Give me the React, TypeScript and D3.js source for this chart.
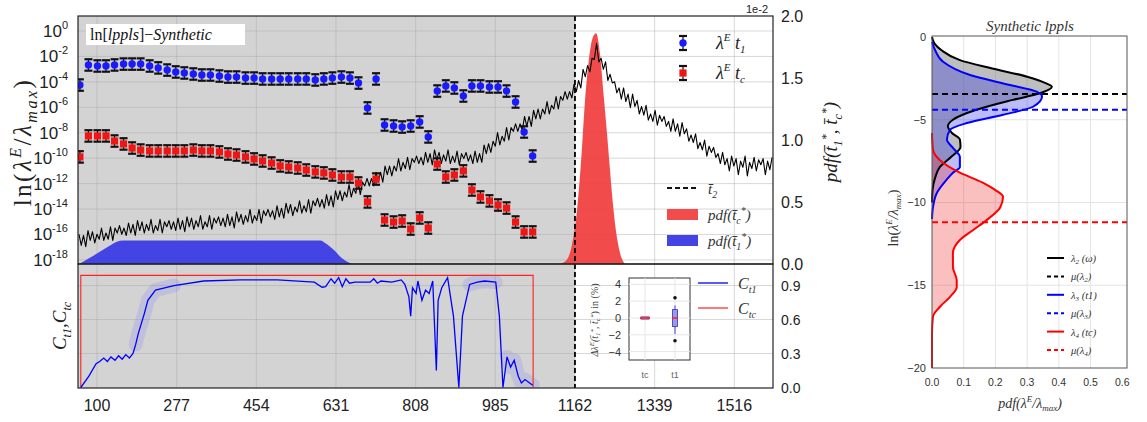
import React from "react";
import * as d3 from "d3";

// ---------------- DATA ----------------
const t2 = 1162;
const xTicks = [100, 277, 454, 631, 808, 985, 1162, 1339, 1516];
const logTickExps = [0, -2, -4, -6, -8, -10, -12, -14, -16, -18];
const pdfTicks = [0, 0.5, 1.0, 1.5, 2.0];
const cTicks = [0, 0.3, 0.6, 0.9];

// window end times of the error-bar points
const pointT = [62, 81, 101, 120, 139, 159, 178, 197, 217, 236, 256, 275, 294, 314, 333, 352, 372, 391, 410, 430, 449, 468, 488, 507, 526, 546, 565, 585, 604, 623, 643, 662, 681, 701, 720, 739, 759, 778, 797, 817, 836, 856, 875, 894, 914, 933, 952, 972, 991, 1010, 1030, 1049, 1068];
// log10 of lambda^E at t1 (blue) and tc (red)
const lambdaT1Exp = [-4.25, -2.67, -2.75, -2.75, -2.67, -2.6, -2.6, -2.6, -2.75, -2.9, -3.07, -3.22, -3.3, -3.38, -3.46, -3.46, -3.54, -3.62, -3.62, -3.7, -3.7, -3.77, -3.77, -3.77, -3.77, -3.77, -3.77, -3.85, -3.77, -3.7, -3.62, -3.7, -4.09, -6.05, -3.77, -7.39, -7.47, -7.55, -7.47, -7.15, -8.33, -4.72, -4.32, -4.48, -5.11, -4.32, -4.32, -4.4, -4.4, -4.72, -5.58, -7.94, -9.83];
const lambdaTcExp = [-9.9, -8.25, -8.25, -8.25, -8.65, -8.88, -9.2, -9.36, -9.43, -9.43, -9.43, -9.43, -9.43, -9.36, -9.43, -9.43, -9.51, -9.67, -9.75, -9.9, -10.06, -10.22, -10.38, -10.61, -10.69, -10.77, -10.93, -11.08, -11.16, -11.32, -11.48, -11.48, -11.95, -13.44, -11.64, -14.86, -15.02, -14.94, -15.57, -14.7, -15.49, -10.46, -11.48, -11.32, -11.0, -12.5, -13.05, -13.36, -13.68, -13.92, -15.02, -15.8, -15.8];
const errDecades = 0.45;

// noisy black series (right axis, x1e-2), sampled every 5 time units from 60
const noiseStart = 60;
const noiseStep = 5;
const pdfNoise = [
  0.24, 0.15, 0.23, 0.14, 0.27, 0.19, 0.26, 0.17, 0.24, 0.20,
  0.29, 0.19, 0.25, 0.20, 0.30, 0.19, 0.29, 0.25, 0.31, 0.24,
  0.29, 0.23, 0.33, 0.25, 0.32, 0.23, 0.35, 0.27, 0.34, 0.25,
  0.32, 0.27, 0.36, 0.25, 0.31, 0.27, 0.36, 0.25, 0.34, 0.30,
  0.35, 0.28, 0.34, 0.27, 0.37, 0.28, 0.35, 0.26, 0.38, 0.30,
  0.37, 0.28, 0.35, 0.30, 0.39, 0.28, 0.34, 0.30, 0.39, 0.28,
  0.37, 0.33, 0.38, 0.31, 0.37, 0.30, 0.40, 0.31, 0.38, 0.29,
  0.42, 0.34, 0.40, 0.32, 0.39, 0.34, 0.44, 0.33, 0.39, 0.35,
  0.44, 0.33, 0.43, 0.39, 0.44, 0.38, 0.43, 0.36, 0.47, 0.38,
  0.45, 0.37, 0.49, 0.41, 0.48, 0.39, 0.46, 0.42, 0.51, 0.41,
  0.47, 0.42, 0.52, 0.41, 0.51, 0.47, 0.53, 0.46, 0.52, 0.45,
  0.56, 0.47, 0.55, 0.46, 0.59, 0.52, 0.59, 0.51, 0.58, 0.54,
  0.64, 0.54, 0.61, 0.57, 0.67, 0.56, 0.66, 0.63, 0.69, 0.63,
  0.69, 0.63, 0.74, 0.66, 0.74, 0.66, 0.79, 0.72, 0.79, 0.71,
  0.79, 0.75, 0.85, 0.75, 0.82, 0.77, 0.86, 0.76, 0.85, 0.82,
  0.87, 0.81, 0.86, 0.80, 0.90, 0.82, 0.89, 0.80, 0.92, 0.84,
  0.90, 0.81, 0.88, 0.83, 0.92, 0.81, 0.87, 0.82, 0.91, 0.80,
  0.89, 0.85, 0.90, 0.83, 0.88, 0.81, 0.91, 0.82, 0.89, 0.82,
  0.96, 0.89, 0.97, 0.90, 0.99, 0.95, 1.06, 0.96, 1.03, 0.99,
  1.10, 1.00, 1.10, 1.07, 1.13, 1.07, 1.13, 1.08, 1.19, 1.11,
  1.19, 1.11, 1.24, 1.17, 1.25, 1.17, 1.25, 1.21, 1.31, 1.21,
  1.28, 1.25, 1.35, 1.25, 1.35, 1.32, 1.39, 1.33, 1.39, 1.34,
  1.45, 1.39, 1.48, 1.42, 1.57, 1.51, 1.60, 1.55, 1.66, 1.65,
  1.78, 1.63, 1.66, 1.57, 1.63, 1.48, 1.53, 1.46, 1.47, 1.38,
  1.42, 1.33, 1.42, 1.31, 1.37, 1.26, 1.37, 1.27, 1.32, 1.21,
  1.27, 1.20, 1.28, 1.16, 1.21, 1.15, 1.24, 1.12, 1.20, 1.15,
  1.19, 1.11, 1.15, 1.07, 1.17, 1.07, 1.13, 1.03, 1.14, 1.05,
  1.09, 0.99, 1.04, 0.98, 1.05, 0.93, 0.98, 0.92, 1.00, 0.87,
  0.95, 0.90, 0.94, 0.86, 0.89, 0.81, 0.90, 0.80, 0.85, 0.75,
  0.87, 0.79, 0.85, 0.72, 0.83, 0.78, 0.87, 0.71, 0.82, 0.77,
  0.86, 0.75, 0.84, 0.80, 0.85, 0.72, 0.83, 0.76, 0.86,
];

// pdf of t1* (blue fill) and tc* (red fill), right axis units
const pdfT1X = [60, 84, 107, 129, 144, 158, 596, 607, 618, 630, 640, 655, 669];
const pdfT1V = [0, 0.05, 0.1, 0.15, 0.18, 0.19, 0.19, 0.17, 0.14, 0.1, 0.06, 0.02, 0];
const pdfTcX = [1125, 1140, 1155, 1167, 1176, 1184, 1193, 1202, 1209, 1218, 1226, 1233, 1240, 1247, 1255, 1262, 1273];
const pdfTcV = [0, 0.02, 0.15, 0.45, 0.85, 1.3, 1.65, 1.83, 1.86, 1.68, 1.35, 1.06, 0.75, 0.46, 0.22, 0.09, 0];

// bottom panel: C_t1 (blue) and C_tc (red)
const cT1X = [64, 82, 98, 106, 115, 123, 131, 140, 148, 156, 164, 172, 180, 186, 192, 205, 213, 230, 271, 337, 419, 501, 583, 600, 608, 620, 628, 637, 645, 653, 661, 673, 707, 715, 723, 731, 755, 776, 784, 793, 797, 801, 809, 813, 822, 830, 838, 846, 854, 858, 866, 879, 892, 904, 912, 928, 945, 961, 986, 994, 1002, 1011, 1019, 1027, 1036, 1043, 1051, 1068];
const cT1V = [0, 0.1, 0.21, 0.23, 0.26, 0.23, 0.27, 0.24, 0.28, 0.25, 0.29, 0.26, 0.3, 0.38, 0.48, 0.65, 0.77, 0.86, 0.9, 0.94, 0.95, 0.95, 0.93, 0.885, 0.89, 0.96, 0.92, 0.97, 0.89, 0.96, 0.92, 0.93, 0.93, 0.96, 0.92, 0.94, 0.93, 0.95, 0.91, 0.8, 0.63, 0.88, 0.83, 0.94, 0.77, 0.86, 0.83, 0.94, 0.15, 0.77, 0.88, 0.97, 0.63, 0.0, 0.63, 0.91, 0.93, 0.94, 0.93, 0.63, 0.0, 0.27, 0.18, 0.24, 0.1, 0.04, 0.07, 0.02];
const cT1BandRanges = [[186, 330], [925, 992], [1005, 1068]];
const cTcX = [64, 64, 1069, 1069];
const cTcV = [0, 0.99, 0.99, 0];

// inset: Δλ^E in %
const insetCats = ["tc", "t1"];
const insetTicks = [4, 2, 0, -2, -4];
const insetTcBox = [-0.15, 0, 0.15];
const insetT1Box = [-1.0, 0, 1.0];
const insetT1Whisk = [-1.9, 1.5];
const insetT1Outliers = [2.4, -2.7];

// right panel KDEs (ln value, pdf)
const kdeL2Ln = [0, -0.4, -0.8, -1.4, -1.9, -2.4, -2.8, -3.0, -3.4, -3.8, -4.4, -5.0, -5.4, -5.8, -6.2, -6.65, -7.25, -7.85, -8.5, -9.2, -10];
const kdeL2Pdf = [0, 0.008, 0.03, 0.088, 0.19, 0.3, 0.36, 0.378, 0.34, 0.255, 0.14, 0.066, 0.05, 0.063, 0.088, 0.09, 0.06, 0.025, 0.01, 0.002, 0];
const kdeL3Ln = [-0.3, -0.8, -1.5, -2.3, -2.9, -3.3, -3.6, -4.2, -4.7, -5.2, -5.6, -6.2, -6.7, -7.25, -7.85, -8.2, -8.6, -9.4, -10.3, -11];
const kdeL3Pdf = [0, 0.01, 0.035, 0.12, 0.246, 0.33, 0.347, 0.32, 0.224, 0.11, 0.057, 0.047, 0.066, 0.088, 0.088, 0.066, 0.047, 0.016, 0.003, 0];
const kdeL4Ln = [-5.8, -6.8, -7.6, -8.2, -8.8, -9.25, -9.65, -10.3, -11.05, -11.66, -12.27, -13.05, -13.9, -14.7, -15.1, -15.7, -16.3, -16.9, -18, -20];
const kdeL4Pdf = [0, 0.003, 0.035, 0.088, 0.16, 0.2, 0.224, 0.215, 0.173, 0.13, 0.088, 0.066, 0.066, 0.078, 0.078, 0.057, 0.025, 0.003, 0, 0];
const meanL2 = -3.45;
const meanL3 = -4.4;
const meanL4 = -11.2;
const kdeXTicks = [0, 0.1, 0.2, 0.3, 0.4, 0.5, 0.6];
const kdeYTicks = [0, -5, -10, -15, -20];

// ---------------- STYLE ----------------
const SANS = "'Liberation Sans', Arial, sans-serif";
const SERIF = "'Liberation Serif', 'DejaVu Serif', serif";
const GRAY_BG = "#d3d3d3";

export default function App() {
  const L = 78, R = 773, T = 16, MID = 264, B = 388;
  const x = d3.scaleLinear().domain([57.8, 1602]).range([L, R]);
  const yLog = d3.scaleLog().domain([Math.pow(10, -18.32), Math.pow(10, 1.18)]).range([MID, T]);
  const yPdf = d3.scaleLinear().domain([0, 2]).range([MID, T]);
  const yC = d3.scaleLinear().domain([0, 1.09]).range([B - 0.5, MID]);
  const xs = x(t2);

  const noiseLine = d3
    .line<number>()
    .x((_, i) => x(noiseStart + i * noiseStep))
    .y((d) => yPdf(d));

  const t1Area = d3
    .area<number>()
    .x((_, i) => x(pdfT1X[i]))
    .y0(yPdf(0))
    .y1((d) => yPdf(d))
    .curve(d3.curveMonotoneX);
  const tcArea = d3
    .area<number>()
    .x((_, i) => x(pdfTcX[i]))
    .y0(yPdf(0))
    .y1((d) => yPdf(d))
    .curve(d3.curveMonotoneX);

  const cLine = d3.line<[number, number]>().x((d) => x(d[0])).y((d) => yC(d[1]));
  const cT1Pts: [number, number][] = cT1X.map((t, i) => [t, cT1V[i]]);
  const cTcPts: [number, number][] = cTcX.map((t, i) => [t, cTcV[i]]);

  // inset
  const inL = 629, inR = 690, inT = 278, inB = 360;
  const yIn = d3.scaleLinear().domain([-4, 4]).range([351.6, 284.4]);
  const xIn = d3.scalePoint<string>().domain(insetCats).range([645, 675]);

  // right panel
  const kL = 932, kR = 1127, kT = 36, kB = 368;
  const kx = d3.scaleLinear().domain([0, 0.615]).range([kL, kR]);
  const ky = d3.scaleLinear().domain([0.06, -20]).range([kT, kB]);
  const kdeArea = (lnArr: number[], pdfArr: number[]) =>
    d3
      .area<number>()
      .y((d) => ky(d))
      .x0(kx(0))
      .x1((_, i) => kx(pdfArr[i]))
      .curve(d3.curveMonotoneY)(lnArr) as string;
  const kdeLine = (lnArr: number[], pdfArr: number[]) =>
    d3
      .line<number>()
      .y((d) => ky(d))
      .x((_, i) => kx(pdfArr[i]))
      .curve(d3.curveMonotoneY)(lnArr) as string;

  const errBar = (cx: number, e: number, key: string) => {
    const y1 = yLog(Math.pow(10, e + errDecades));
    const y0 = yLog(Math.pow(10, e - errDecades));
    return (
      <g key={key}>
        <line x1={cx} x2={cx} y1={y1} y2={y0} stroke="#111" strokeWidth={1.2} />
        <line x1={cx - 4} x2={cx + 4} y1={y1} y2={y1} stroke="#111" strokeWidth={2.2} />
        <line x1={cx - 4} x2={cx + 4} y1={y0} y2={y0} stroke="#111" strokeWidth={2.2} />
      </g>
    );
  };

  return (
    <svg
      width={1147}
      height={422}
      style={{ position: "absolute", left: 0, top: 0, background: "#fff" }}
    >
      <defs>
        <clipPath id="topClip">
          <rect x={L} y={T} width={R - L} height={MID - T} />
        </clipPath>
        <clipPath id="botClip">
          <rect x={L} y={MID} width={R - L} height={B - MID} />
        </clipPath>
      </defs>

      {/* ===== Top + bottom panel backgrounds ===== */}
      <rect x={L} y={T} width={R - L} height={B - T} fill="#fff" />
      <rect x={L} y={T} width={xs - L} height={B - T} fill={GRAY_BG} />

      {/* grids */}
      <g stroke="#a8a8a8" strokeOpacity={0.45} strokeWidth={1}>
        {xTicks.map((t) => (
          <line key={"gv" + t} x1={x(t)} x2={x(t)} y1={T} y2={B} />
        ))}
        {logTickExps.map((k) => (
          <line key={"gh" + k} x1={L} x2={R} y1={yLog(Math.pow(10, k))} y2={yLog(Math.pow(10, k))} />
        ))}
        {cTicks.slice(1).map((c) => (
          <line key={"gc" + c} x1={L} x2={R} y1={yC(c)} y2={yC(c)} />
        ))}
      </g>

      {/* ===== Top panel marks ===== */}
      <g clipPath="url(#topClip)">
        <path d={t1Area(pdfT1V) as string} fill="#4444e4" />
        <path d={tcArea(pdfTcV) as string} fill="#f03c3c" fillOpacity={0.92} />
        <path d={noiseLine(pdfNoise) as string} fill="none" stroke="#000" strokeWidth={1.1} strokeLinejoin="round" />
        {pointT.map((t, i) => errBar(x(t), lambdaT1Exp[i], "eb" + i))}
        {pointT.map((t, i) => errBar(x(t), lambdaTcExp[i], "er" + i))}
        {pointT.map((t, i) => (
          <circle key={"pb" + i} cx={x(t)} cy={yLog(Math.pow(10, lambdaT1Exp[i]))} r={3.7} fill="#1a1aff" />
        ))}
        {pointT.map((t, i) => (
          <rect
            key={"pr" + i}
            x={x(t) - 3.6}
            y={yLog(Math.pow(10, lambdaTcExp[i])) - 3.6}
            width={7.2}
            height={7.2}
            fill="#f01515"
          />
        ))}
      </g>

      {/* ===== Bottom panel marks ===== */}
      <g clipPath="url(#botClip)">
        {cT1BandRanges.map((r, i) => (
          <path
            key={"band" + i}
            d={cLine(cT1Pts.filter((p) => p[0] >= r[0] && p[0] <= r[1])) as string}
            fill="none"
            stroke="#6a6af0"
            strokeOpacity={0.18}
            strokeWidth={14}
            strokeLinejoin="round"
            strokeLinecap="round"
          />
        ))}
        <path d={cLine(cTcPts) as string} fill="none" stroke="#ff2020" strokeWidth={1.1} />
        <path d={cLine(cT1Pts) as string} fill="none" stroke="#0000ff" strokeWidth={1.3} />
      </g>

      {/* t2 dashed line */}
      <line x1={xs} x2={xs} y1={T} y2={B} stroke="#000" strokeWidth={1.8} strokeDasharray="5,3" />

      {/* frames */}
      <rect x={L} y={T} width={R - L} height={MID - T} fill="none" stroke="#222" strokeWidth={1.2} />
      <rect x={L} y={MID} width={R - L} height={B - MID} fill="none" stroke="#222" strokeWidth={1.2} />

      {/* top-left title box */}
      <rect x={86} y={24} width={159} height={21} fill="#fff" />
      <text x={90} y={40} fontFamily={SERIF} fontSize={16} fill="#111">
        ln[<tspan fontStyle="italic">lppls</tspan>]−<tspan fontStyle="italic">Synthetic</tspan>
      </text>

      {/* left log tick labels */}
      {logTickExps.map((k) => (
        <text key={"lt" + k} x={68} y={yLog(Math.pow(10, k)) + 6} textAnchor="end" fontFamily={SANS} fontSize={17} fill="#222">
          10
          <tspan fontSize={11} dy={-8}>
            {k === 0 ? "0" : "-" + Math.abs(k)}
          </tspan>
        </text>
      ))}

      {/* right tick labels */}
      {pdfTicks.map((v) => (
        <text key={"rt" + v} x={781} y={yPdf(v) + 6} fontFamily={SANS} fontSize={16} fill="#222">
          {v.toFixed(1)}
        </text>
      ))}
      {cTicks.map((v) => (
        <text key={"ct" + v} x={781} y={yC(v) + 5} fontFamily={SANS} fontSize={14} fill="#222">
          {v.toFixed(1)}
        </text>
      ))}
      <text x={757} y={13} textAnchor="middle" fontFamily={SANS} fontSize={11} fill="#222">
        1e-2
      </text>

      {/* x tick labels */}
      {xTicks.map((t) => (
        <text key={"xt" + t} x={x(t)} y={411} textAnchor="middle" fontFamily={SANS} fontSize={16} fill="#222">
          {t}
        </text>
      ))}

      {/* axis titles */}
      <text
        transform="translate(31,142) rotate(-90)"
        textAnchor="middle"
        fontFamily={SERIF}
        fontSize={25}
        letterSpacing={2.5}
        fill="#222"
      >
        ln(<tspan fontStyle="italic">λ</tspan>
        <tspan fontStyle="italic" fontSize={16} dy={-10}>E</tspan>
        <tspan dy={10}>/</tspan>
        <tspan fontStyle="italic">λ</tspan>
        <tspan fontStyle="italic" fontSize={16} dy={6}>max</tspan>
        <tspan dy={-6}>)</tspan>
      </text>
      <text
        transform="translate(837,142) rotate(-90)"
        textAnchor="middle"
        fontFamily={SERIF}
        fontStyle="italic"
        fontSize={19}
        fill="#222"
      >
        pdf(t̄<tspan fontSize={12} dy={5}>1</tspan>
        <tspan fontSize={12} dy={-12}>*</tspan>
        <tspan dy={7}>, t̄</tspan>
        <tspan fontSize={12} dy={5}>c</tspan>
        <tspan fontSize={12} dy={-12}>*</tspan>
        <tspan dy={7}>)</tspan>
      </text>
      <text
        transform="translate(66,326) rotate(-90)"
        textAnchor="middle"
        fontFamily={SERIF}
        fontStyle="italic"
        fontSize={19}
        fill="#222"
      >
        C<tspan fontSize={12} dy={5}>t1</tspan>
        <tspan dy={-5}>,C</tspan>
        <tspan fontSize={12} dy={5}>tc</tspan>
      </text>

      {/* top legend (error bars) */}
      {[
        { e: 0, color: "#1a1aff", label: "1", yy: 43, circle: true },
        { e: 1, color: "#f01515", label: "c", yy: 73, circle: false },
      ].map((d) => (
        <g key={"lg" + d.e}>
          <line x1={683} x2={683} y1={d.yy - 7} y2={d.yy + 7} stroke="#111" strokeWidth={1.2} />
          <line x1={679} x2={687} y1={d.yy - 7} y2={d.yy - 7} stroke="#111" strokeWidth={2.2} />
          <line x1={679} x2={687} y1={d.yy + 7} y2={d.yy + 7} stroke="#111" strokeWidth={2.2} />
          {d.circle ? (
            <circle cx={683} cy={d.yy} r={3.7} fill={d.color} />
          ) : (
            <rect x={679.4} y={d.yy - 3.6} width={7.2} height={7.2} fill={d.color} />
          )}
          <text x={716} y={d.yy + 6} fontFamily={SERIF} fontStyle="italic" fontSize={18} fill="#222">
            λ<tspan fontSize={11} dy={-8}>E</tspan>
            <tspan dy={8}>{"  t"}</tspan>
            <tspan fontSize={11} dy={4}>{d.label}</tspan>
          </text>
        </g>
      ))}

      {/* top lower legend */}
      <line x1={667} x2={698} y1={188} y2={188} stroke="#111" strokeWidth={2} strokeDasharray="5,3" />
      <text x={708} y={194} fontFamily={SERIF} fontStyle="italic" fontSize={15} fill="#333">
        t̄<tspan fontSize={10} dy={4}>2</tspan>
      </text>
      <rect x={667} y={209} width={31} height={11} fill="#f03c3c" fillOpacity={0.92} />
      <text x={708} y={220} fontFamily={SERIF} fontStyle="italic" fontSize={15} fill="#333">
        pdf(t̄<tspan fontSize={10} dy={4}>c</tspan>
        <tspan fontSize={10} dy={-10}>*</tspan>
        <tspan dy={6}>)</tspan>
      </text>
      <rect x={667} y={235} width={31} height={11} fill="#4444e4" />
      <text x={708} y={246} fontFamily={SERIF} fontStyle="italic" fontSize={15} fill="#333">
        pdf(t̄<tspan fontSize={10} dy={4}>1</tspan>
        <tspan fontSize={10} dy={-10}>*</tspan>
        <tspan dy={6}>)</tspan>
      </text>

      {/* bottom legend */}
      <line x1={698} x2={728} y1={283} y2={283} stroke="#0000ff" strokeWidth={1.3} />
      <text x={738} y={289} fontFamily={SERIF} fontStyle="italic" fontSize={16} fill="#333">
        C<tspan fontSize={10} dy={4}>t1</tspan>
      </text>
      <line x1={698} x2={728} y1={308} y2={308} stroke="#ff3030" strokeWidth={1.3} />
      <text x={738} y={314} fontFamily={SERIF} fontStyle="italic" fontSize={16} fill="#333">
        C<tspan fontSize={10} dy={4}>tc</tspan>
      </text>

      {/* ===== inset ===== */}
      <rect x={inL} y={inT} width={inR - inL} height={inB - inT} fill="#fff" stroke="#333" strokeWidth={1} />
      <g stroke="#e6e6e6" strokeWidth={1}>
        {insetTicks.map((v) => (
          <line key={"ig" + v} x1={inL} x2={inR} y1={yIn(v)} y2={yIn(v)} />
        ))}
        {insetCats.map((c) => (
          <line key={"igv" + c} x1={xIn(c)} x2={xIn(c)} y1={inT} y2={inB} />
        ))}
      </g>
      {insetTicks.map((v) => (
        <text key={"it" + v} x={621} y={yIn(v) + 4} textAnchor="end" fontFamily={SANS} fontSize={11} fill="#333">
          {v < 0 ? "−" + Math.abs(v) : v}
        </text>
      ))}
      {insetCats.map((c) => (
        <text key={"ic" + c} x={xIn(c)} y={378} textAnchor="middle" fontFamily={SANS} fontSize={9} fill="#666">
          {c}
        </text>
      ))}
      <text
        transform="translate(598,320) rotate(-90)"
        textAnchor="middle"
        fontFamily={SERIF}
        fontStyle="italic"
        fontSize={10}
        fill="#444"
      >
        Δλ<tspan fontSize={7} dy={-4}>E</tspan>
        <tspan dy={4}>(t̄</tspan>
        <tspan fontSize={7} dy={2}>1</tspan>
        <tspan fontSize={7} dy={-5}>*</tspan>
        <tspan dy={3}>, t̄</tspan>
        <tspan fontSize={7} dy={2}>c</tspan>
        <tspan fontSize={7} dy={-5}>*</tspan>
        <tspan dy={3} fontStyle="normal">) in (%)</tspan>
      </text>
      {/* tc box */}
      <rect
        x={(xIn("tc") as number) - 4}
        y={yIn(insetTcBox[2])}
        width={8}
        height={yIn(insetTcBox[0]) - yIn(insetTcBox[2])}
        fill="#c8c8f0"
        stroke="#6060d0"
        strokeWidth={0.8}
      />
      <line x1={(xIn("tc") as number) - 5} x2={(xIn("tc") as number) + 5} y1={yIn(insetTcBox[1])} y2={yIn(insetTcBox[1])} stroke="#ff2020" strokeWidth={1.8} />
      {/* t1 box */}
      <line x1={xIn("t1")} x2={xIn("t1")} y1={yIn(insetT1Whisk[1])} y2={yIn(insetT1Whisk[0])} stroke="#4040d0" strokeWidth={1} />
      <rect
        x={(xIn("t1") as number) - 2.5}
        y={yIn(insetT1Box[2])}
        width={5}
        height={yIn(insetT1Box[0]) - yIn(insetT1Box[2])}
        fill="#9a9ae8"
        stroke="#3030c0"
        strokeWidth={0.8}
      />
      <line x1={(xIn("t1") as number) - 3} x2={(xIn("t1") as number) + 3} y1={yIn(insetT1Box[1])} y2={yIn(insetT1Box[1])} stroke="#ff2020" strokeWidth={1.5} />
      {insetT1Outliers.map((v, i) => (
        <circle key={"io" + i} cx={xIn("t1")} cy={yIn(v)} r={1.8} fill="#111" />
      ))}

      {/* ===== Right panel (KDE) ===== */}
      <rect x={kL} y={kT} width={kR - kL} height={kB - kT} fill="#fff" />
      <g stroke="#e4e4e4" strokeWidth={1}>
        {kdeXTicks.slice(1, 6).map((v) => (
          <line key={"kgx" + v} x1={kx(v)} x2={kx(v)} y1={kT} y2={kB} />
        ))}
        {kdeYTicks.slice(1, 4).map((v) => (
          <line key={"kgy" + v} x1={kL} x2={kR} y1={ky(v)} y2={ky(v)} />
        ))}
      </g>
      <path d={kdeArea(kdeL2Ln, kdeL2Pdf)} fill="#6e6e6e" fillOpacity={0.45} />
      <path d={kdeArea(kdeL3Ln, kdeL3Pdf)} fill="#2020e0" fillOpacity={0.3} />
      <path d={kdeArea(kdeL4Ln, kdeL4Pdf)} fill="#f03030" fillOpacity={0.3} />
      <path d={kdeLine(kdeL2Ln, kdeL2Pdf)} fill="none" stroke="#000" strokeWidth={2} />
      <path d={kdeLine(kdeL3Ln, kdeL3Pdf)} fill="none" stroke="#0000ff" strokeWidth={2} />
      <path d={kdeLine(kdeL4Ln, kdeL4Pdf)} fill="none" stroke="#ff0000" strokeWidth={2} />
      <line x1={kL} x2={kR} y1={ky(meanL2)} y2={ky(meanL2)} stroke="#000" strokeWidth={2} strokeDasharray="6,4" />
      <line x1={kL} x2={kR} y1={ky(meanL3)} y2={ky(meanL3)} stroke="#0000ff" strokeWidth={2} strokeDasharray="6,4" />
      <line x1={kL} x2={kR} y1={ky(meanL4)} y2={ky(meanL4)} stroke="#ff0000" strokeWidth={2} strokeDasharray="6,4" />
      <rect x={kL} y={kT} width={kR - kL} height={kB - kT} fill="none" stroke="#555" strokeWidth={1} />

      {kdeXTicks.map((v) => (
        <text key={"kxt" + v} x={kx(v)} y={386} textAnchor="middle" fontFamily={SANS} fontSize={10.5} fill="#333">
          {v.toFixed(1)}
        </text>
      ))}
      {kdeYTicks.map((v) => (
        <text key={"kyt" + v} x={926} y={ky(v) + 4} textAnchor="end" fontFamily={SANS} fontSize={11} fill="#333">
          {v < 0 ? "−" + Math.abs(v) : v}
        </text>
      ))}
      <text x={1030} y={31} textAnchor="middle" fontFamily={SERIF} fontStyle="italic" fontSize={15} fill="#333">
        Synthetic lppls
      </text>
      <text x={1030} y={408} textAnchor="middle" fontFamily={SERIF} fontStyle="italic" fontSize={14} fill="#333">
        pdf(λ<tspan fontSize={9} dy={-6}>E</tspan>
        <tspan dy={6}>/λ</tspan>
        <tspan fontSize={9} dy={3}>max</tspan>
        <tspan dy={-3}>)</tspan>
      </text>
      <text
        transform="translate(898,218) rotate(-90)"
        textAnchor="middle"
        fontFamily={SERIF}
        fontSize={14}
        fill="#333"
      >
        ln(<tspan fontStyle="italic">λ</tspan>
        <tspan fontStyle="italic" fontSize={9} dy={-6}>E</tspan>
        <tspan dy={6} fontStyle="italic">/λ</tspan>
        <tspan fontStyle="italic" fontSize={9} dy={3}>max</tspan>
        <tspan dy={-3}>)</tspan>
      </text>

      {/* right legend */}
      {[
        { c: "#000", dash: "", a: "λ", s: "2", b: " (ω)" },
        { c: "#000", dash: "4,3", a: "μ(λ", s: "2", b: ")" },
        { c: "#0000ff", dash: "", a: "λ", s: "3", b: " (t1)" },
        { c: "#0000ff", dash: "4,3", a: "μ(λ", s: "3", b: ")" },
        { c: "#ff0000", dash: "", a: "λ", s: "4", b: " (tc)" },
        { c: "#ff0000", dash: "4,3", a: "μ(λ", s: "4", b: ")" },
      ].map((d, i) => {
        const yy = 258 + i * 18.4;
        return (
          <g key={"kl" + i}>
            <line x1={1047} x2={1064} y1={yy} y2={yy} stroke={d.c} strokeWidth={2} strokeDasharray={d.dash || undefined} />
            <text x={1071} y={yy + 4} fontFamily={SERIF} fontStyle="italic" fontSize={10.5} fill="#333">
              {d.a}
              <tspan fontSize={7} dy={2}>{d.s}</tspan>
              <tspan dy={-2}>{d.b}</tspan>
            </text>
          </g>
        );
      })}
    </svg>
  );
}
